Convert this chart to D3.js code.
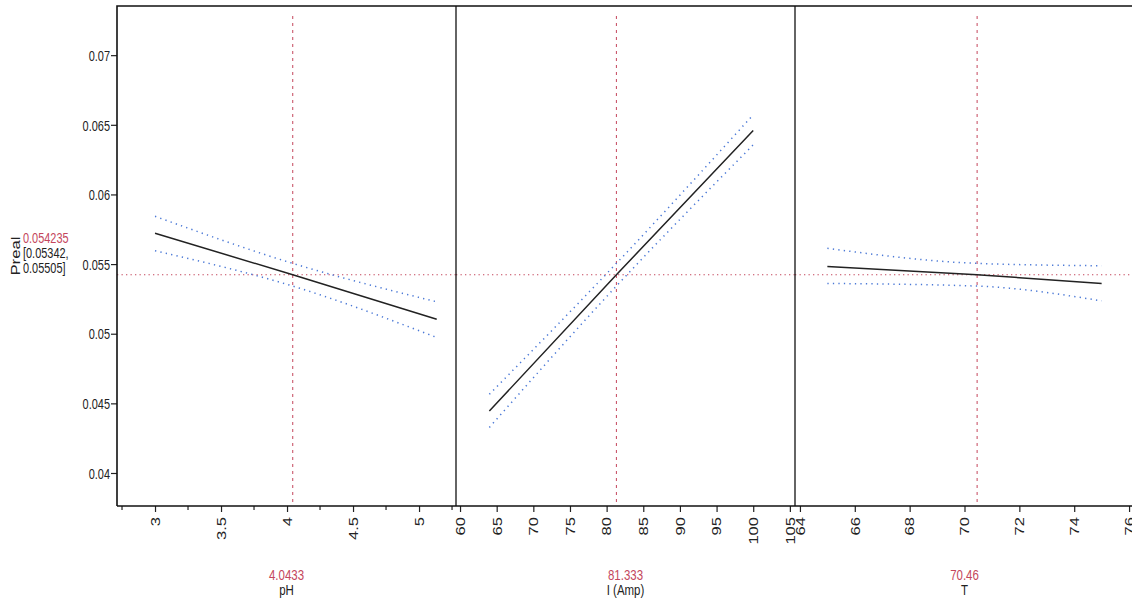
<!DOCTYPE html>
<html>
<head>
<meta charset="utf-8">
<script src="https://cdn.jsdelivr.net/npm/d3@7"></script>
<style>
  html, body { margin: 0; padding: 0; background: #fff; }
  svg { display: block; }
  text { font-family: "Liberation Sans", Arial, sans-serif; }
</style>
</head>
<body>
<svg id="chart" width="1132" height="605"></svg>
<script>
// ---- data ----
const factorNames = ["pH", "I (Amp)", "T"];
const factorSettings = [4.0433, 81.333, 70.46];
const responseName = "Preal";
const responseValue = 0.054235;
const responseCI = [0.05342, 0.05505];
const yLimits = [0.03763, 0.07353];
const yTicks = [0.04, 0.045, 0.05, 0.055, 0.06, 0.065, 0.07];
const xLimits = [[2.712, 5.28], [59.45, 105.7], [63.82, 76.18]];
const xTicks = [[3, 3.5, 4, 4.5, 5], [60, 65, 70, 75, 80, 85, 90, 95, 100, 105], [64, 66, 68, 70, 72, 74, 76]];
const xMinorTicks = [[2.75, 3.25, 3.75, 4.25, 4.75, 5.25], [], []];
const curveX = [[3, 4.0433, 5.134], [64, 81.333, 100], [65, 70.46, 75]];
const curveMean = [[0.05721, 0.054235, 0.05104], [0.04445, 0.054235, 0.06459], [0.05483, 0.054235, 0.05361]];
const curveUpper = [[0.05843, 0.05505, 0.05229], [0.04565, 0.05505, 0.06572], [0.05613, 0.05505, 0.05488]];
const curveLower = [[0.05596, 0.05342, 0.04973], [0.04327, 0.05342, 0.06356], [0.05361, 0.05342, 0.05236]];

// ---- layout ----
const svg = d3.select("#chart");
const mLeft = 117, mTop = 6, mBottom = 506, mRight = 1134;
const panelW = (mRight - mLeft) / 3;
const red = "#c4465c";
const blue = "#4a78d6";
const SQ = 0.75; // horizontal squeeze of the original picture

const y = d3.scaleLinear().domain(yLimits).range([mBottom, mTop]);

function hText(x, yy, str, size, color, anchor) {
  return svg.append("text")
    .attr("transform", `translate(${x},${yy}) scale(${SQ},1)`)
    .attr("text-anchor", anchor || "start")
    .attr("font-size", size).attr("fill", color).text(str);
}

// y axis
const yAxis = svg.append("g").attr("transform", `translate(${mLeft},0)`)
  .call(d3.axisLeft(y).tickValues(yTicks).tickSize(6).tickFormat(d => String(+d.toFixed(3))));
yAxis.select(".domain").remove();
yAxis.selectAll("line").attr("stroke", "#222").attr("stroke-width", 1.2);
yAxis.selectAll("text").attr("x", 0).attr("dy", "0.36em")
  .attr("transform", `translate(-7,0) scale(${SQ},1)`)
  .attr("font-size", 14.6).attr("fill", "#222").attr("font-family", "Liberation Sans, Arial, sans-serif");

// response labels
svg.append("text").attr("transform", `translate(20,256) rotate(-90) scale(${1 / SQ},1)`)
  .attr("text-anchor", "middle").attr("font-size", 12.6).attr("fill", "#222").text(responseName);
hText(23, 243, String(responseValue), 14.6, red);
hText(23, 258, "[" + responseCI[0] + ",", 14.6, "#222");
hText(23, 273, responseCI[1] + "]", 14.6, "#222");

factorNames.forEach((name, i) => {
  const x0 = mLeft + i * panelW;
  const x = d3.scaleLinear().domain(xLimits[i]).range([x0, x0 + panelW]);
  const g = svg.append("g");

  // crosshairs
  g.append("line").attr("x1", x0).attr("x2", x0 + panelW).attr("y1", y(responseValue)).attr("y2", y(responseValue))
    .attr("stroke", red).attr("stroke-width", 1.2).attr("stroke-dasharray", "1.3,3.2");
  g.append("line").attr("x1", x(factorSettings[i])).attr("x2", x(factorSettings[i])).attr("y1", mTop + 10).attr("y2", mBottom)
    .attr("stroke", red).attr("stroke-width", 1).attr("stroke-dasharray", "3,4");

  const ptsU = curveX[i].map((v, k) => [x(v), y(curveUpper[i][k])]);
  const ptsL = curveX[i].map((v, k) => [x(v), y(curveLower[i][k])]);
  const ptsM = curveX[i].map((v, k) => [x(v), y(curveMean[i][k])]);
  const lineC = d3.line().curve(d3.curveMonotoneX);
  [ptsU, ptsL].forEach(p => g.append("path").attr("d", lineC(p)).attr("fill", "none")
    .attr("stroke", blue).attr("stroke-width", 1.5).attr("stroke-dasharray", "1.3,4.2"));
  g.append("path").attr("d", d3.line()(ptsM)).attr("fill", "none").attr("stroke", "#222").attr("stroke-width", 1.5);

  // x axis
  const ax = svg.append("g").attr("transform", `translate(0,${mBottom})`)
    .call(d3.axisBottom(x).tickValues(xTicks[i]).tickSize(6).tickFormat(d => String(d)));
  ax.select(".domain").remove();
  ax.selectAll("line").attr("stroke", "#222").attr("stroke-width", 1.2);
  ax.selectAll("text").attr("font-size", 12.4).attr("fill", "#222")
    .attr("transform", `rotate(-90) scale(${1 / SQ},1)`).attr("text-anchor", "end")
    .attr("dy", "0.35em").attr("x", -11 * SQ).attr("y", 0);
  svg.append("g").selectAll("line").data(xMinorTicks[i]).join("line")
    .attr("x1", d => x(d)).attr("x2", d => x(d)).attr("y1", mBottom).attr("y2", mBottom + 4)
    .attr("stroke", "#222").attr("stroke-width", 1.2);

  // factor labels
  hText(x0 + panelW / 2, 580, String(factorSettings[i]), 15.3, red, "middle");
  hText(x0 + panelW / 2, 595, name, 15.3, "#222", "middle");

  // panel divider
  if (i > 0) svg.append("line").attr("x1", x0).attr("x2", x0).attr("y1", mTop).attr("y2", mBottom)
    .attr("stroke", "#111").attr("stroke-width", 1.3);
});

// frame
svg.append("path").attr("d", `M${mLeft},${mBottom}V${mTop}H${mRight}`).attr("fill", "none").attr("stroke", "#111").attr("stroke-width", 1.6);
svg.append("line").attr("x1", mLeft).attr("x2", mRight).attr("y1", mBottom).attr("y2", mBottom).attr("stroke", "#111").attr("stroke-width", 1.6);
</script>
</body>
</html>
